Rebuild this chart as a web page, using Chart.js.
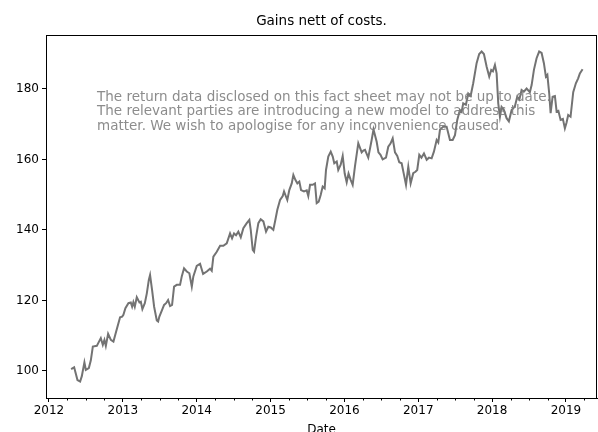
<!DOCTYPE html>
<html>
<head>
<meta charset="utf-8">
<script src="https://cdn.jsdelivr.net/npm/chart.js@4/dist/chart.umd.min.js"></script>
<style>
  html, body { margin: 0; padding: 0; background: #ffffff; overflow: hidden; }
  #wrap { position: relative; width: 598px; height: 432px; }
</style>
</head>
<body>
<div id="wrap"><canvas id="c" width="598" height="432"></canvas></div>
<script>
// Observation dates as decimal years
const dates = [
  2012.300, 2012.341, 2012.386, 2012.422, 2012.445, 2012.480, 2012.499, 2012.540, 2012.567, 2012.594,
  2012.648, 2012.702, 2012.729, 2012.751, 2012.770, 2012.801, 2012.838, 2012.873, 2012.909, 2012.963,
  2012.991, 2013.008, 2013.035, 2013.076, 2013.108, 2013.126, 2013.143, 2013.162, 2013.189, 2013.225,
  2013.244, 2013.265, 2013.298, 2013.325, 2013.352, 2013.369, 2013.396, 2013.424, 2013.460, 2013.478,
  2013.495, 2013.532, 2013.559, 2013.586, 2013.613, 2013.640, 2013.667, 2013.694, 2013.731, 2013.775,
  2013.798, 2013.829, 2013.866, 2013.901, 2013.934, 2013.955, 2014.001, 2014.046, 2014.087, 2014.137,
  2014.181, 2014.204, 2014.226, 2014.272, 2014.317, 2014.361, 2014.407, 2014.452, 2014.479, 2014.506,
  2014.533, 2014.564, 2014.597, 2014.632, 2014.678, 2014.713, 2014.732, 2014.759, 2014.777, 2014.804,
  2014.835, 2014.867, 2014.903, 2014.939, 2014.970, 2015.003, 2015.038, 2015.065, 2015.092, 2015.129,
  2015.165, 2015.183, 2015.210, 2015.227, 2015.254, 2015.287, 2015.309, 2015.336, 2015.363, 2015.390,
  2015.413, 2015.453, 2015.490, 2015.511, 2015.535, 2015.571, 2015.602, 2015.625, 2015.652, 2015.679,
  2015.706, 2015.733, 2015.751, 2015.782, 2015.815, 2015.842, 2015.863, 2015.896, 2015.917, 2015.950,
  2015.977, 2016.004, 2016.031, 2016.056, 2016.085, 2016.112, 2016.143, 2016.188, 2016.234, 2016.256,
  2016.279, 2016.323, 2016.369, 2016.394, 2016.437, 2016.461, 2016.489, 2016.518, 2016.563, 2016.594,
  2016.624, 2016.654, 2016.685, 2016.716, 2016.743, 2016.775, 2016.807, 2016.834, 2016.865, 2016.897,
  2016.932, 2016.962, 2016.986, 2017.014, 2017.043, 2017.077, 2017.114, 2017.145, 2017.181, 2017.212,
  2017.249, 2017.271, 2017.294, 2017.338, 2017.384, 2017.429, 2017.466, 2017.497, 2017.528, 2017.564,
  2017.587, 2017.609, 2017.645, 2017.677, 2017.709, 2017.744, 2017.790, 2017.825, 2017.858, 2017.889,
  2017.926, 2017.961, 2017.988, 2018.011, 2018.038, 2018.061, 2018.083, 2018.106, 2018.128, 2018.160,
  2018.196, 2018.227, 2018.264, 2018.308, 2018.340, 2018.369, 2018.399, 2018.430, 2018.467, 2018.511,
  2018.535, 2018.566, 2018.602, 2018.637, 2018.670, 2018.701, 2018.728, 2018.748, 2018.773, 2018.792,
  2018.819, 2018.850, 2018.873, 2018.897, 2018.927, 2018.958, 2018.985, 2019.008, 2019.030, 2019.062,
  2019.098, 2019.134, 2019.165, 2019.188, 2019.225
];

// Cumulative value of the fund after costs
const gains = [
  100.5, 101.0, 97.4, 97.0, 98.5, 102.4, 100.3, 100.8, 103.0, 106.9,
  107.1, 109.3, 107.4, 108.8, 107.1, 110.5, 108.8, 108.3, 111.1, 115.2,
  115.4, 115.9, 117.8, 119.2, 119.4, 118.2, 119.5, 118.2, 120.9, 119.4,
  119.6, 117.5, 119.2, 122.0, 125.8, 127.2, 123.0, 118.2, 114.3, 114.0,
  115.4, 117.3, 118.7, 119.2, 120.1, 118.4, 118.7, 123.9, 124.4, 124.4,
  126.8, 129.1, 128.2, 127.7, 123.9, 126.8, 129.8, 130.4, 127.5, 128.2,
  129.0, 128.4, 132.4, 133.8, 135.5, 135.5, 136.2, 139.0, 137.6, 139.0,
  138.5, 139.5, 137.9, 140.5, 141.9, 142.8, 140.0, 134.3, 133.8, 138.0,
  141.9, 143.0, 142.4, 139.5, 140.9, 140.7, 140.0, 142.8, 145.7, 148.5,
  149.6, 150.9, 149.4, 148.5, 151.3, 153.2, 155.6, 154.2, 153.2, 153.7,
  151.3, 150.9, 151.2, 149.6, 152.8, 152.8, 153.2, 147.6, 148.0, 149.9,
  152.3, 151.8, 157.0, 160.8, 162.2, 160.8, 158.9, 159.4, 157.0, 158.5,
  161.0, 156.0, 153.5, 156.0, 154.2, 152.8, 158.0, 164.6, 162.0, 162.5,
  162.7, 160.5, 165.5, 168.5, 165.0, 162.0, 161.3, 160.0, 160.5, 163.6,
  164.5, 166.0, 162.0, 161.0, 159.2, 158.9, 155.6, 152.8, 157.9, 153.2,
  156.1, 156.5, 157.0, 161.3, 160.5, 161.7, 159.9, 160.5, 160.3, 162.2,
  165.5, 164.8, 168.4, 169.3, 169.3, 165.5, 165.5, 166.9, 171.2, 174.0,
  173.5, 175.9, 175.5, 178.7, 178.0, 181.6, 187.3, 189.9, 190.6, 189.9,
  186.3, 183.5, 185.4, 185.0, 186.8, 184.4, 175.9, 172.1, 174.9, 174.0,
  171.7, 170.8, 174.0, 175.0, 177.8, 177.0, 179.7, 179.2, 180.1, 179.1,
  181.1, 185.4, 188.7, 190.6, 190.2, 187.3, 183.5, 184.0, 178.7, 173.1,
  177.8, 178.0, 173.6, 173.8, 171.2, 171.5, 168.8, 170.5, 172.6, 172.1,
  179.1, 181.6, 183.0, 184.4, 185.6
];

const yearTicks = [2012, 2013, 2014, 2015, 2016, 2017, 2018, 2019];
const valueTicks = [100, 120, 140, 160, 180];

const titleText = 'Gains nett of costs.';
const xAxisLabel = 'Date';
const noticeLines = [
  'The return data disclosed on this fact sheet may not be up to date.',
  'The relevant parties are introducing a new model to address this',
  'matter. We wish to apologise for any inconvenience caused.'
];

const FONT = '"DejaVu Sans", sans-serif';

// Frame, quarterly minor ticks, title, axis label and the notice text
const decorations = {
  id: 'decorations',
  afterDraw(chart) {
    const { ctx, chartArea: a, scales } = chart;
    ctx.save();
    ctx.strokeStyle = '#000';
    ctx.lineWidth = 1;
    ctx.strokeRect(Math.round(a.left) + 0.5, Math.round(a.top) + 0.5,
                   Math.round(a.right - a.left) - 1, Math.round(a.bottom - a.top));

    // minor ticks every quarter
    ctx.beginPath();
    for (let y = 2012; y <= 2019; y++) {
      for (const q of [0.25, 0.5, 0.75]) {
        const px = scales.x.getPixelForValue(y + q);
        if (px > a.left && px < a.right) {
          const xx = Math.round(px) + 0.5;
          ctx.moveTo(xx, Math.round(a.bottom));
          ctx.lineTo(xx, Math.round(a.bottom) + 2.5);
        }
      }
    }
    ctx.stroke();

    ctx.fillStyle = '#000';
    ctx.textAlign = 'center';
    ctx.textBaseline = 'middle';
    ctx.font = '13.5px ' + FONT;
    ctx.fillText(titleText, (a.left + a.right) / 2, 21);
    ctx.font = '12px ' + FONT;
    ctx.fillText(xAxisLabel, (a.left + a.right) / 2, 430);

    ctx.fillStyle = 'rgba(128,128,128,0.9)';
    ctx.textAlign = 'left';
    ctx.font = '13.5px ' + FONT;
    noticeLines.forEach((t, i) => ctx.fillText(t, 97, 97 + i * 14.5));
    ctx.restore();
  }
};

new Chart(document.getElementById('c'), {
  type: 'line',
  data: {
    datasets: [{
      data: dates.map((d, i) => ({ x: d, y: gains[i] })),
      borderColor: '#737373',
      borderWidth: 2,
      pointRadius: 0,
      tension: 0,
      fill: false
    }]
  },
  options: {
    responsive: false,
    animation: false,
    devicePixelRatio: 1,
    layout: { padding: { top: 35, right: 1, left: 0, bottom: 0 } },
    plugins: { legend: { display: false }, tooltip: { enabled: false }, title: { display: false } },
    scales: {
      x: {
        type: 'linear',
        min: 2011.96,
        max: 2019.42,
        afterBuildTicks(scale) { scale.ticks = yearTicks.map(v => ({ value: v })); },
        afterFit(scale) { scale.height = 34; },
        ticks: {
          autoSkip: false, maxRotation: 0, minRotation: 0, padding: 2,
          color: '#000', font: { family: FONT, size: 12 },
          callback: v => String(v)
        },
        grid: { drawOnChartArea: false, drawTicks: true, tickLength: 4, tickColor: '#000', tickWidth: 1 },
        border: { display: true, color: '#000', width: 1 }
      },
      y: {
        min: 92.3,
        max: 195.3,
        afterBuildTicks(scale) { scale.ticks = valueTicks.map(v => ({ value: v })); },
        afterFit(scale) { scale.width = 46; },
        ticks: {
          autoSkip: false, padding: 3, color: '#000', font: { family: FONT, size: 12 },
          callback: v => String(v)
        },
        grid: { drawOnChartArea: false, drawTicks: true, tickLength: 4, tickColor: '#000', tickWidth: 1 },
        border: { display: true, color: '#000', width: 1 }
      }
    }
  },
  plugins: [decorations]
});
</script>
</body>
</html>
